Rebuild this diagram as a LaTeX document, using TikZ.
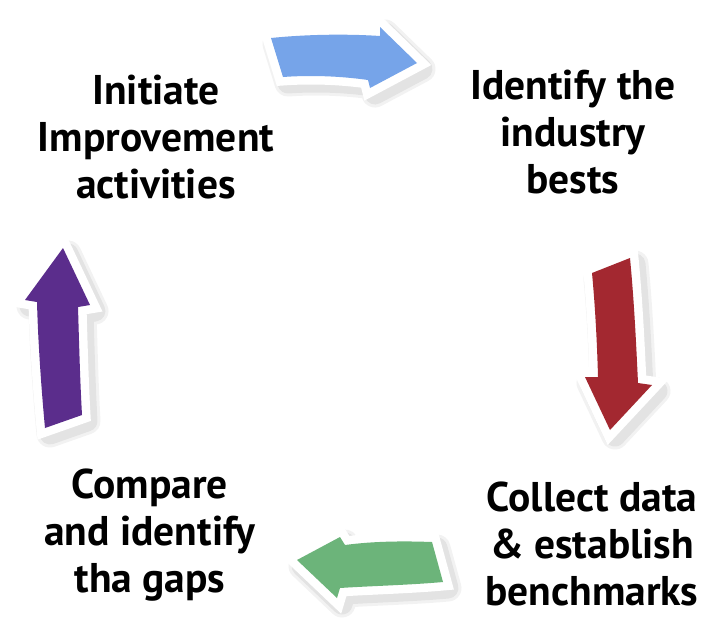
\documentclass[tikz,border=0pt]{standalone}
\usepackage{fontspec}
\setmainfont{PT Sans}
\usetikzlibrary{calc}
\definecolor{cblue}{RGB}{118,164,233}
\definecolor{cred}{RGB}{163,40,48}
\definecolor{cgreen}{RGB}{108,180,122}
\definecolor{cpurple}{RGB}{91,45,140}
\tikzset{
  lbl/.style={align=center, font=\bfseries\fontsize{41.5}{47}\selectfont, text=black, inner sep=0pt, anchor=base},
  rim/.style={draw=white, fill=white, line width=17pt, line join=miter, miter limit=10},
  shade1/.style={draw=black, fill=black, opacity=0.05, line width=27pt, line join=round},
  shade2/.style={draw=black, fill=black, opacity=0.06, line width=21pt, line join=round},
}
\newcommand{\fancyarrow}[2]{%
  \begin{scope}[shift={(5,6)}]
    \path[shade1] #1;
    \path[shade2] #1;
  \end{scope}
  \path[rim] #1;
  \fill[#2] #1;
}
\begin{document}
\begin{tikzpicture}[x=1pt,y=-1pt]
\useasboundingbox (0,0) rectangle (704,619);
\fill[white] (0,0) rectangle (704,619);
% blue arrow
\fancyarrow{(271,38) .. controls (310,34) and (350,34) .. (380,36) -- (380,27) -- (417,63) -- (370,88) -- (368,80) .. controls (340,76) and (310,75) .. (283,77) -- cycle}{cblue}
% red arrow
\fancyarrow{(592,273) -- (630,258) .. controls (634,300) and (636,340) .. (638,383) -- (652,385) -- (610,430) -- (585,377) -- (598,377) .. controls (597,340) and (595,305) .. cycle}{cred}
% green arrow
\fancyarrow{(432,542) -- (443,582) .. controls (410,585) and (370,586) .. (340,588) -- (337,598) -- (297,560) -- (340,537) -- (345,545) .. controls (375,541) and (405,541) .. cycle}{cgreen}
% purple arrow
\fancyarrow{(63,248) -- (90,305) -- (78,307) .. controls (79,340) and (80,380) .. (82,415) -- (45,428) .. controls (41,385) and (38,340) .. (37,302) -- (25,300) -- cycle}{cpurple}
% labels (anchor = baseline of last line)
\node[lbl] (initiate) at (156,198) {Initiate\\Improvement\\activities};
\node[lbl] (identify) at (573,193) {Identify the\\industry\\bests};
\node[lbl] (collect) at (592,605) {Collect data\\\& establish\\benchmarks};
\node[lbl] (compare) at (150,592) {Compare\\and identify\\tha gaps};
\end{tikzpicture}
\end{document}
